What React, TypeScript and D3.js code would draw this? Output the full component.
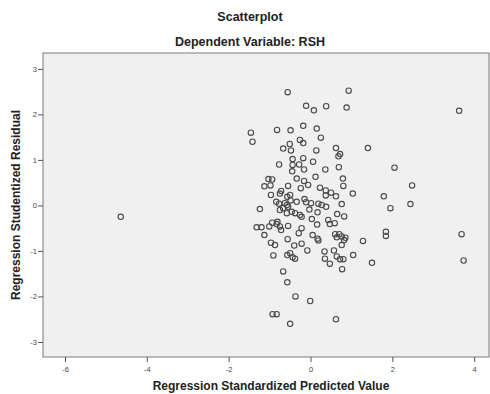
// SPSS-style residual scatterplot, drawn with D3 scales + JSX.
import * as d3 from "d3";

const TITLE = "Scatterplot";
const SUBTITLE = "Dependent Variable: RSH";
const X_LABEL = "Regression Standardized Predicted Value";
const Y_LABEL = "Regression Studentized Residual";

const X_TICKS = [-6, -4, -2, 0, 2, 4];
const Y_TICKS = [-3, -2, -1, 0, 1, 2, 3];

// standardized predicted value (x) and studentized residual (y)
const predX = [
  -0.57, 0.92, -0.12, 0.07, 0.37, 0.87, 3.62, -1.47, -1.43, -0.83,
  -0.5, -0.19, 0.14, 0.24, -0.27, -0.19, -0.52, -0.68, -0.49, 0.13,
  0.61, 0.71, 0.67, 1.39, -0.45, -0.19, 0.05, -0.78, -0.45, -0.29,
  -0.46, -0.17, 0.35, 0.68, 2.04, 0.11, 0.78, -1.04, -0.95, -0.35,
  -0.17, 0.79, 2.47, -1.14, -0.99, -0.56, -0.25, -0.07, 0.22, 0.36,
  0.49, 0.36, 0.61, 1.02, 1.78, -0.98, -0.73, -0.76, -0.58, -0.51,
  -0.5, -0.85, -0.78, -0.64, -0.59, -0.56, -0.35, -0.16, -0.12, 0.0,
  0.18, 0.26, 0.37, 0.75, 1.94, 2.43, 0.81, -1.25, -0.76, -0.68,
  -0.59, -0.47, -0.39, -0.27, -0.23, -0.04, 0.16, 0.64, 0.02, 0.15,
  0.42, 0.46, 0.58, -0.95, -0.82, -0.84, -0.76, -0.73, -1.33, -1.21,
  -1.02, -1.14, -0.56, -0.23, -0.3, 0.04, 0.16, 0.18, 0.59, 0.63,
  0.69, 0.75, 0.84, 0.81, 1.83, 1.83, 3.68, 1.27, -0.57, -0.98,
  -0.88, -0.41, -0.23, -0.09, 0.33, 0.56, 0.75, 1.03, -0.58, -0.51,
  -0.45, -0.39, -0.92, 0.34, 0.46, 0.63, 0.71, 0.79, 1.49, 3.73,
  0.76, -0.68, -0.58, -0.38, -0.02, -0.94, -0.84, -0.51, 0.61, -4.65,
];
const residY = [
  2.5, 2.53, 2.2, 2.1, 2.19, 2.16, 2.09, 1.61, 1.41, 1.67,
  1.66, 1.76, 1.7, 1.5, 1.45, 1.38, 1.36, 1.26, 1.22, 1.22,
  1.27, 1.14, 1.09, 1.27, 1.03, 1.05, 0.97, 0.91, 0.9, 0.91,
  0.76, 0.8, 0.8, 0.85, 0.84, 0.64, 0.6, 0.59, 0.58, 0.6,
  0.55, 0.44, 0.45, 0.43, 0.45, 0.44, 0.39, 0.46, 0.4, 0.34,
  0.29, 0.23, 0.21, 0.27, 0.21, 0.24, 0.33, 0.27, 0.2, 0.24,
  0.12, 0.09, 0.05, 0.06, 0.02, -0.02, 0.09, 0.15, 0.08, 0.06,
  0.05, 0.02, -0.02, 0.04, -0.05, 0.04, -0.23, -0.07, -0.09, -0.05,
  -0.16, -0.13, -0.16, -0.2, -0.24, -0.08, -0.14, -0.18, -0.29, -0.41,
  -0.31, -0.4, -0.38, -0.37, -0.35, -0.4, -0.45, -0.53, -0.47, -0.47,
  -0.45, -0.64, -0.44, -0.49, -0.6, -0.64, -0.72, -0.76, -0.62, -0.69,
  -0.62, -0.67, -0.7, -0.75, -0.57, -0.66, -0.62, -0.77, -0.73, -0.81,
  -0.86, -0.87, -0.83, -0.98, -1.0, -0.98, -0.86, -1.08, -1.08, -1.04,
  -1.13, -1.16, -1.09, -1.16, -1.27, -1.11, -1.17, -1.17, -1.25, -1.2,
  -1.39, -1.44, -1.68, -1.99, -2.09, -2.38, -2.38, -2.59, -2.49, -0.24,
];

const W = 490;
const H = 394;
const plot = { left: 43, right: 489, top: 53, bottom: 357 };
const FONT = "'Liberation Sans', Arial, sans-serif";

export default function App() {
  const x = d3.scaleLinear().domain([-6.55, 4.35]).range([plot.left, plot.right]);
  const y = d3.scaleLinear().domain([-3.32, 3.36]).range([plot.bottom, plot.top]);
  const cy = (plot.top + plot.bottom) / 2;

  return (
    <svg
      width={W}
      height={H}
      style={{ position: "absolute", left: 0, top: 0, background: "#fff" }}
      fontFamily={FONT}
    >
      <text x={250} y={21} textAnchor="middle" fontSize={12.5} fontWeight="bold" fill="#222">
        {TITLE}
      </text>
      <text x={250} y={46} textAnchor="middle" fontSize={12.5} fontWeight="bold" fill="#222">
        {SUBTITLE}
      </text>

      <rect
        x={plot.left}
        y={plot.top}
        width={plot.right - plot.left}
        height={plot.bottom - plot.top}
        fill="#f0f0f0"
        stroke="#7a7a7a"
        strokeWidth={1}
      />

      {Y_TICKS.map((t) => (
        <g key={`y${t}`}>
          <line x1={plot.left - 5} x2={plot.left} y1={y(t)} y2={y(t)} stroke="#555" />
          <text x={plot.left - 6} y={y(t) + 2.5} textAnchor="end" fontSize={7.5} fill="#444">
            {t}
          </text>
        </g>
      ))}
      {X_TICKS.map((t) => (
        <g key={`x${t}`}>
          <line x1={x(t)} x2={x(t)} y1={plot.bottom} y2={plot.bottom + 5} stroke="#555" />
          <text x={x(t)} y={plot.bottom + 15} textAnchor="middle" fontSize={7.5} fill="#444">
            {t}
          </text>
        </g>
      ))}

      <text x={271} y={390} textAnchor="middle" fontSize={12} fontWeight="bold" fill="#222">
        {X_LABEL}
      </text>
      <text
        transform={`translate(20,${cy}) rotate(-90)`}
        textAnchor="middle"
        fontSize={12}
        fontWeight="bold"
        fill="#222"
      >
        {Y_LABEL}
      </text>

      <g fill="none" stroke="#4a4a4a" strokeWidth={1.1}>
        {predX.map((v, i) => (
          <circle key={i} cx={x(v)} cy={y(residY[i])} r={2.7} />
        ))}
      </g>
    </svg>
  );
}
